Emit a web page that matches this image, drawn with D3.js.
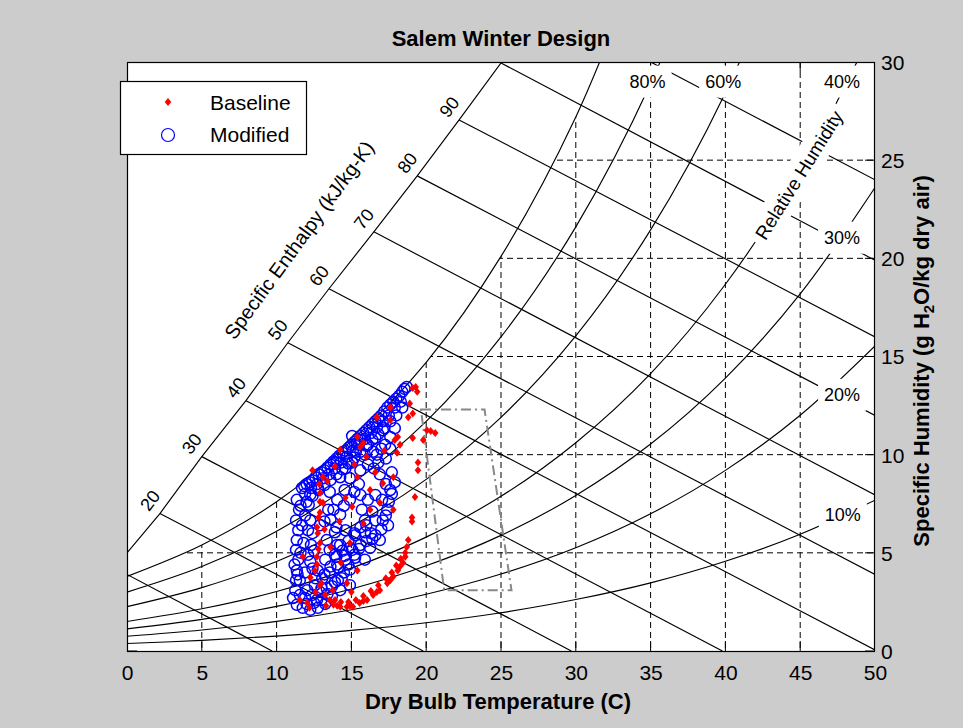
<!DOCTYPE html>
<html>
<head>
<meta charset="utf-8">
<script src="https://cdn.jsdelivr.net/npm/d3@7"></script>
<style>
body { margin: 0; background: #cccccc; }
svg { display: block; font-family: "Liberation Sans", Arial, sans-serif; }
</style>
</head>
<body>
<svg width="963" height="728"></svg>
<script>
// axis ticks
var tempTicks = [0, 5, 10, 15, 20, 25, 30, 35, 40, 45, 50];
var humTicks = [0, 5, 10, 15, 20, 25, 30];

// relative humidity curves, humidity ratio (g/kg) read at each temperature
var rhTemps = [0, 5, 10, 15, 20, 25, 30, 35, 40, 45, 50];
var rh100 = [3.8, 5.4, 7.6, 10.7, 14.7, 20.1, 27.2, 36.6];
var rh80 = [3.0, 4.3, 6.1, 8.5, 11.7, 16.0, 21.6, 28.9, 38.5];
var rh60 = [2.26, 3.23, 4.56, 6.35, 8.74, 11.9, 16.05, 21.45, 28.44, 37.5];
var rh40 = [1.5, 2.15, 3.03, 4.22, 5.8, 7.88, 10.61, 14.13, 18.68, 24.49, 31.88];
var rh30 = [1.13, 1.61, 2.27, 3.16, 4.34, 5.89, 7.92, 10.54, 13.9, 18.19, 23.61];
var rh20 = [0.75, 1.07, 1.51, 2.1, 2.89, 3.92, 5.26, 6.99, 9.2, 12.01, 15.54];
var rh10 = [0.38, 0.54, 0.76, 1.05, 1.44, 1.95, 2.62, 3.47, 4.57, 5.95, 7.68];
var rhNames = ["80%", "60%", "40%", "30%", "20%", "10%"];
var rhLabelT = [34.8, 39.85, 47.8, 47.8, 47.8, 47.85];
var rhLabelW = [29.0, 29.0, 29.0, 21.05, 13.05, 6.95];

// enthalpy lines (kJ/kg), start and end points
var enthalpy = [10, 20, 30, 40, 50, 60, 70, 80, 90, 100, 110];
var enthStartT = [0, 2.2, 5.0, 7.95, 10.75, 13.5, 16.5, 19.4, 22.2, 25.0, 35.0];
var enthStartW = [3.9, 7.0, 9.9, 12.75, 15.7, 18.45, 21.35, 24.2, 27.05, 29.95, 30];
var enthEndT = [9.7, 19.8, 29.7, 39.8, 50, 50, 50, 50, 50, 50, 50];
var enthEndW = [0, 0, 0, 0, 0.05, 3.9, 7.95, 12.0, 16.0, 19.9, 24.0];
var enthLabeled = [20, 30, 40, 50, 60, 70, 80, 90];

// comfort zone outline
var zoneT = [19.65, 23.9, 25.7, 21.2];
var zoneW = [12.3, 12.3, 3.1, 3.1];

// Baseline (T, w)
var baseline = [
  [19.1, 13.4], [19.3, 13.45], [19.4, 13.2], [18.9, 12.6], [19.1, 12.1], [18.8, 11.9],
  [20.05, 11.25], [20.3, 11.2], [20.6, 11.1], [19.8, 10.75], [19.1, 10.85], [18.1, 10.9],
  [18.25, 10.5], [19.45, 9.6], [19.45, 9.2], [19.25, 7.85], [19.05, 6.8], [19.05, 6.6],
  [18.8, 5.65], [18.6, 5.0], [18.45, 4.5], [18.25, 4.3], [18.1, 4.1], [17.8, 3.8],
  [17.6, 3.6], [17.4, 3.45], [16.9, 3.1], [16.7, 3.0], [16.45, 2.85], [16.05, 2.6],
  [15.8, 2.55], [15.55, 2.45], [15.1, 2.25], [14.9, 2.3], [14.7, 2.25], [14.25, 2.25],
  [14.05, 2.3], [13.8, 2.35], [13.55, 2.6], [13.25, 2.85], [12.9, 3.35],
  [18.3, 4.7], [18.0, 4.35], [17.7, 4.0], [17.3, 3.7], [16.8, 3.35], [16.3, 3.05],
  [15.8, 2.8], [15.3, 2.6], [14.8, 2.5], [14.3, 2.5], [13.9, 2.6], [18.6, 4.8], [18.7, 5.3],
  [12.9, 8.05], [13.1, 8.85], [13.4, 8.65], [15.6, 10.4], [15.8, 10.6], [17.6, 11.75],
  [17.9, 10.75], [18.05, 10.1], [15.4, 8.85], [16.25, 8.2], [15.05, 7.35], [13.1, 7.55],
  [12.9, 7.05], [12.7, 6.3], [12.9, 5.5], [12.7, 4.8], [12.55, 4.1], [13.0, 3.45],
  [13.75, 3.1], [14.7, 3.45], [15.4, 4.1], [14.9, 5.5], [15.8, 6.5], [16.25, 7.2],
  [16.9, 7.55], [17.1, 8.55], [17.8, 8.85], [17.8, 7.2], [12.4, 9.2], [14.25, 10.25],
  [15.4, 10.9], [16.7, 11.9], [17.6, 12.4], [11.55, 2.6], [12.05, 2.45], [12.25, 3.75],
  [11.75, 4.8], [12.85, 8.5], [12.9, 7.6], [12.8, 6.8], [12.75, 6.0], [12.8, 5.2], [12.7, 4.4],
  [13.2, 6.2], [13.6, 5.3], [14.2, 6.6], [14.6, 7.8], [15.2, 9.5], [16.0, 9.9], [16.6, 9.1],
  [17.2, 10.2], [13.9, 9.4], [12.6, 3.0], [12.2, 2.2], [13.3, 2.3], [14.3, 4.5], [15.0, 3.0]
];

// Modified (T, w)
var modified = [
  [11.7, 8.3], [12.0, 8.5], [12.4, 8.7], [12.8, 9.0], [13.2, 9.2], [13.6, 9.5], [14.0, 9.8],
  [14.4, 10.1], [14.8, 10.35], [15.2, 10.65], [15.6, 10.95], [16.0, 11.25], [16.4, 11.55],
  [16.8, 11.85], [17.2, 12.2], [17.6, 12.55], [18.0, 12.85], [18.4, 13.2], [18.7, 13.45],
  [11.9, 8.0], [12.3, 8.3], [12.7, 8.5], [13.1, 8.8], [13.5, 9.0], [13.9, 9.3], [14.3, 9.6],
  [14.7, 9.9], [15.1, 10.2], [15.5, 10.5], [15.9, 10.8], [16.3, 11.1], [16.7, 11.4],
  [17.1, 11.7], [17.5, 12.0], [17.9, 12.4], [18.3, 12.7],
  [11.85, 8.4], [12.2, 8.6], [12.6, 8.85], [13.0, 9.1], [13.4, 9.35], [13.8, 9.65],
  [14.2, 9.95], [14.6, 10.2], [15.0, 10.5], [15.4, 10.8], [15.8, 11.1], [16.2, 11.4],
  [16.6, 11.7], [17.0, 12.0], [17.4, 12.4], [17.8, 12.7], [18.2, 13.0], [18.55, 13.35],
  [12.0, 7.6], [12.4, 7.9], [12.8, 8.2], [13.2, 8.45], [13.6, 8.7], [14.0, 9.0], [14.4, 9.25],
  [14.8, 9.55], [15.2, 9.85], [15.6, 10.15], [16.0, 10.45], [16.4, 10.75], [16.8, 11.05],
  [17.2, 11.35], [17.6, 11.7], [18.0, 12.0], [18.4, 12.4],
  [15.05, 10.95], [15.6, 10.75], [16.1, 10.5], [16.6, 10.85], [15.3, 10.15], [15.9, 10.0],
  [16.45, 10.15], [14.0, 9.6], [14.6, 9.3], [15.05, 9.6], [15.6, 9.2], [14.25, 8.85],
  [14.9, 8.8], [17.1, 11.25], [17.6, 10.9], [17.25, 10.5], [17.9, 11.35], [17.7, 9.1],
  [17.9, 8.6], [17.6, 8.2], [12.25, 7.95], [12.75, 8.3], [13.55, 8.1], [14.05, 7.7],
  [14.55, 8.2], [13.45, 7.2], [14.25, 6.95], [12.25, 6.65], [12.9, 6.4], [15.6, 7.95],
  [16.1, 7.7], [16.6, 7.95], [15.7, 7.2], [16.4, 7.1], [15.9, 6.65], [16.6, 6.65],
  [17.05, 7.7], [17.4, 7.2], [17.1, 6.65], [17.45, 6.4], [13.9, 6.05], [14.6, 6.15],
  [15.25, 5.9], [15.9, 6.05], [16.6, 5.9], [14.25, 5.4], [14.9, 5.25], [15.6, 5.4],
  [16.25, 5.25], [16.9, 5.65], [14.6, 4.65], [15.25, 4.75], [15.9, 4.65], [14.1, 4.25],
  [14.9, 4.15], [11.1, 2.7], [11.35, 2.35], [11.75, 2.2], [12.25, 2.1], [12.75, 2.2],
  [13.25, 2.4], [11.55, 2.85], [12.05, 3.1], [12.55, 3.35], [13.05, 3.7], [13.55, 4.0],
  [14.05, 4.4], [14.55, 4.85], [15.05, 5.15], [11.9, 2.7], [12.35, 2.85], [12.9, 3.0],
  [13.35, 3.2], [13.9, 3.5], [14.35, 3.7], [13.7, 2.8], [14.25, 3.1], [14.9, 3.35],
  [12.7, 2.6], [11.25, 3.1], [11.55, 3.6], [11.9, 4.0], [12.25, 4.55], [12.75, 4.1],
  [13.25, 4.65], [13.55, 5.15], [14.05, 5.4], [13.35, 5.65], [13.9, 4.9],
  [11.35, 7.7], [11.5, 7.2], [11.3, 6.65], [11.45, 6.15], [11.35, 5.65], [11.3, 5.15],
  [11.45, 4.65], [11.35, 4.1], [11.3, 3.6], [12.15, 7.45], [12.1, 6.15], [12.3, 5.4], [12.1, 4.9],
  [11.2, 4.4], [11.4, 3.9], [11.6, 5.0], [11.8, 5.5], [11.7, 6.4], [11.9, 6.9], [11.6, 7.4],
  [12.4, 6.0], [12.5, 5.1], [12.4, 4.2], [12.6, 3.7], [13.0, 3.2], [12.0, 2.4], [12.5, 2.45],
  [13.0, 2.6], [13.4, 2.9], [13.7, 3.3], [14.1, 3.6], [14.5, 4.0], [14.8, 4.4], [15.2, 4.9],
  [15.5, 5.2], [13.2, 3.9], [13.6, 4.3], [14.0, 4.8], [14.4, 5.1], [14.8, 5.6], [15.2, 6.0],
  [15.6, 6.3], [16.0, 6.4], [16.3, 6.0], [16.0, 5.6], [16.4, 5.7], [17.0, 6.2], [17.3, 6.9],
  [17.5, 7.6], [17.7, 8.0], [17.3, 8.5], [16.9, 9.0], [16.5, 9.3], [16.1, 9.5], [16.8, 9.6],
  [17.3, 9.8], [17.6, 10.3], [17.0, 10.3], [16.7, 10.0], [14.5, 7.4], [14.9, 7.7], [15.2, 8.1],
  [15.5, 8.5], [13.8, 7.2], [13.2, 6.6], [13.6, 6.7], [14.0, 6.3]
];

var svg = d3.select("svg"),
    margin = {top: 62, right: 88, bottom: 77, left: 127},
    width = +svg.attr("width") - margin.left - margin.right,
    height = +svg.attr("height") - margin.top - margin.bottom,
    g = svg.append("g").attr("transform", "translate(" + margin.left + "," + margin.top + ")");

var x = d3.scaleLinear().domain([0, 50]).range([0, width]);
var y = d3.scaleLinear().domain([0, 30]).range([height, 0]);

var defs = svg.append("defs");
defs.append("clipPath").attr("id", "plotClip")
    .append("rect").attr("width", width).attr("height", height);

// region below saturation: grid and ticks only show there
var satPts = rh100.map(function (w, i) { return [rhTemps[i], w]; });
var underSat = defs.append("clipPath").attr("id", "underSat");
underSat.append("path")
    .attr("d", d3.area()
        .x(function (d) { return x(d[0]); })
        .y0(height)
        .y1(function (d) { return y(d[1]); })
        .curve(d3.curveCatmullRom)(satPts));
underSat.append("rect")
    .attr("x", x(35)).attr("y", -50)
    .attr("width", x(50) - x(35) + 10).attr("height", height + 60);

g.append("rect").attr("width", width).attr("height", height).attr("fill", "#fff");

var plot = g.append("g").attr("clip-path", "url(#plotClip)");
var grid = plot.append("g").attr("clip-path", "url(#underSat)")
    .attr("stroke", "#000").attr("stroke-width", 1).attr("fill", "none");

grid.selectAll(".vgrid")
    .data(tempTicks.slice(1, -1))
    .enter().append("line")
        .attr("x1", function (d) { return x(d); })
        .attr("x2", function (d) { return x(d); })
        .attr("y1", 0).attr("y2", height)
        .attr("stroke-dasharray", "6,4");

grid.selectAll(".hgrid")
    .data(humTicks.slice(1, -1))
    .enter().append("line")
        .attr("y1", function (d) { return y(d); })
        .attr("y2", function (d) { return y(d); })
        .attr("x1", 0).attr("x2", width)
        .attr("stroke-dasharray", "6,4");

// inward ticks on all sides
tempTicks.forEach(function (t) {
    grid.append("line").attr("x1", x(t)).attr("x2", x(t)).attr("y1", height).attr("y2", height - 10);
    grid.append("line").attr("x1", x(t)).attr("x2", x(t)).attr("y1", 0).attr("y2", 10);
});
humTicks.forEach(function (w) {
    grid.append("line").attr("y1", y(w)).attr("y2", y(w)).attr("x1", width).attr("x2", width - 10);
    grid.append("line").attr("y1", y(w)).attr("y2", y(w)).attr("x1", 0).attr("x2", 10);
});

var lines = plot.append("g").attr("stroke", "#000").attr("stroke-width", 1.15).attr("fill", "none");

// enthalpy lines
lines.selectAll(".enth")
    .data(enthalpy)
    .enter().append("line")
        .attr("x1", function (d, i) { return x(enthStartT[i]); })
        .attr("y1", function (d, i) { return y(enthStartW[i]); })
        .attr("x2", function (d, i) { return x(enthEndT[i]); })
        .attr("y2", function (d, i) { return y(enthEndW[i]); });

// boundary through the enthalpy starts
var diag = [[0, 5.0]].concat(enthStartT.slice(1, 10).map(function (t, i) {
    return [t, enthStartW[i + 1]];
}));
diag.push([25.1, 30]);
lines.append("path")
    .attr("d", d3.line().x(function (d) { return x(d[0]); }).y(function (d) { return y(d[1]); })(diag));

// relative humidity curves
var rhLine = d3.line()
    .x(function (d) { return x(d[0]); })
    .y(function (d) { return y(d[1]); })
    .curve(d3.curveCatmullRom);
[rh100, rh80, rh60, rh40, rh30, rh20, rh10].forEach(function (arr) {
    lines.append("path")
        .attr("d", rhLine(arr.map(function (w, i) { return [rhTemps[i], w]; })));
});

// label boxes with white backgrounds
var labels = g.append("g").attr("font-size", 18).attr("fill", "#000");
rhNames.forEach(function (name, i) {
    var cx = x(rhLabelT[i]), cy = y(rhLabelW[i]);
    labels.append("rect")
        .attr("x", cx - 24).attr("y", cy - 16)
        .attr("width", 48).attr("height", 32)
        .attr("fill", "#fff");
    labels.append("text")
        .attr("x", cx).attr("y", cy).attr("dy", "0.35em")
        .attr("text-anchor", "middle")
        .text(name);
});

var rhTitle = labels.append("g")
    .attr("transform", "translate(672,113) rotate(-58)");
rhTitle.append("rect")
    .attr("x", -80).attr("y", -15).attr("width", 160).attr("height", 30)
    .attr("fill", "#fff");
rhTitle.append("text")
    .attr("text-anchor", "middle").attr("dy", "0.35em")
    .attr("font-size", 19)
    .text("Relative Humidity");

enthLabeled.forEach(function (h) {
    var i = enthalpy.indexOf(h);
    labels.append("text")
        .attr("transform", "translate(" + (x(enthStartT[i]) - 10) + "," + (y(enthStartW[i]) - 13) + ") rotate(-53)")
        .attr("text-anchor", "middle").attr("dy", "0.35em")
        .text(h);
});

labels.append("text")
    .attr("transform", "translate(172,178) rotate(-54)")
    .attr("text-anchor", "middle").attr("dy", "0.35em")
    .attr("font-size", 20)
    .text("Specific Enthalpy (kJ/kg-K)");

// comfort zone
plot.append("path")
    .attr("d", d3.line()(zoneT.map(function (t, i) { return [x(t), y(zoneW[i])]; })) + "Z")
    .attr("fill", "none")
    .attr("stroke", "#888")
    .attr("stroke-width", 2)
    .attr("stroke-dasharray", "10,4,2,4");

// markers
var diamond = "M0,-4L3.3,0L0,4L-3.3,0Z";

plot.append("g").selectAll("circle")
    .data(modified)
    .enter().append("circle")
        .attr("cx", function (d) { return x(d[0]); })
        .attr("cy", function (d) { return y(d[1]); })
        .attr("r", 5.5)
        .attr("fill", "none")
        .attr("stroke", "#0000ff")
        .attr("stroke-width", 1.5);

plot.append("g").selectAll("path")
    .data(baseline)
    .enter().append("path")
        .attr("transform", function (d) { return "translate(" + x(d[0]) + "," + y(d[1]) + ")"; })
        .attr("d", diamond)
        .attr("fill", "#ff0000");

// frame
g.append("rect")
    .attr("x", 0.5).attr("y", 0.5)
    .attr("width", width - 1).attr("height", height)
    .attr("fill", "none").attr("stroke", "#000").attr("stroke-width", 1.2);

// axes labels
var xAxis = g.append("g")
    .attr("transform", "translate(0," + height + ")")
    .call(d3.axisBottom(x).tickValues(tempTicks).tickSize(0).tickPadding(14));
xAxis.select(".domain").remove();
xAxis.attr("font-size", 21).attr("font-family", "Liberation Sans, Arial, sans-serif");

var yAxis = g.append("g")
    .attr("transform", "translate(" + width + ",0)")
    .call(d3.axisRight(y).tickValues(humTicks).tickSize(0).tickPadding(6));
yAxis.select(".domain").remove();
yAxis.attr("font-size", 21).attr("font-family", "Liberation Sans, Arial, sans-serif");
yAxis.selectAll("text").attr("dy", "0.35em");

svg.append("text")
    .attr("x", 501).attr("y", 46)
    .attr("text-anchor", "middle")
    .attr("font-size", 22).attr("font-weight", "bold")
    .text("Salem Winter Design");

svg.append("text")
    .attr("x", 498).attr("y", 709)
    .attr("text-anchor", "middle")
    .attr("font-size", 22).attr("font-weight", "bold")
    .text("Dry Bulb Temperature (C)");

var yTitle = svg.append("text")
    .attr("transform", "translate(929,361) rotate(-90)")
    .attr("text-anchor", "middle")
    .attr("font-size", 22).attr("font-weight", "bold");
yTitle.append("tspan").text("Specific Humidity (g H");
yTitle.append("tspan").attr("font-size", 15).attr("dy", 5).text("2");
yTitle.append("tspan").attr("dy", -5).text("O/kg dry air)");

// legend
var legend = svg.append("g").attr("font-size", 21);
legend.append("rect")
    .attr("x", 120.5).attr("y", 81.5).attr("width", 186).attr("height", 73)
    .attr("fill", "#fff").attr("stroke", "#000").attr("stroke-width", 1.2);
legend.append("path")
    .attr("transform", "translate(168,102)")
    .attr("d", diamond).attr("fill", "#ff0000");
legend.append("circle")
    .attr("cx", 168).attr("cy", 135).attr("r", 6.5)
    .attr("fill", "none").attr("stroke", "#0000ff").attr("stroke-width", 1.2);
legend.append("text").attr("x", 210).attr("y", 110).text("Baseline");
legend.append("text").attr("x", 210).attr("y", 142).text("Modified");
</script>
</body>
</html>
